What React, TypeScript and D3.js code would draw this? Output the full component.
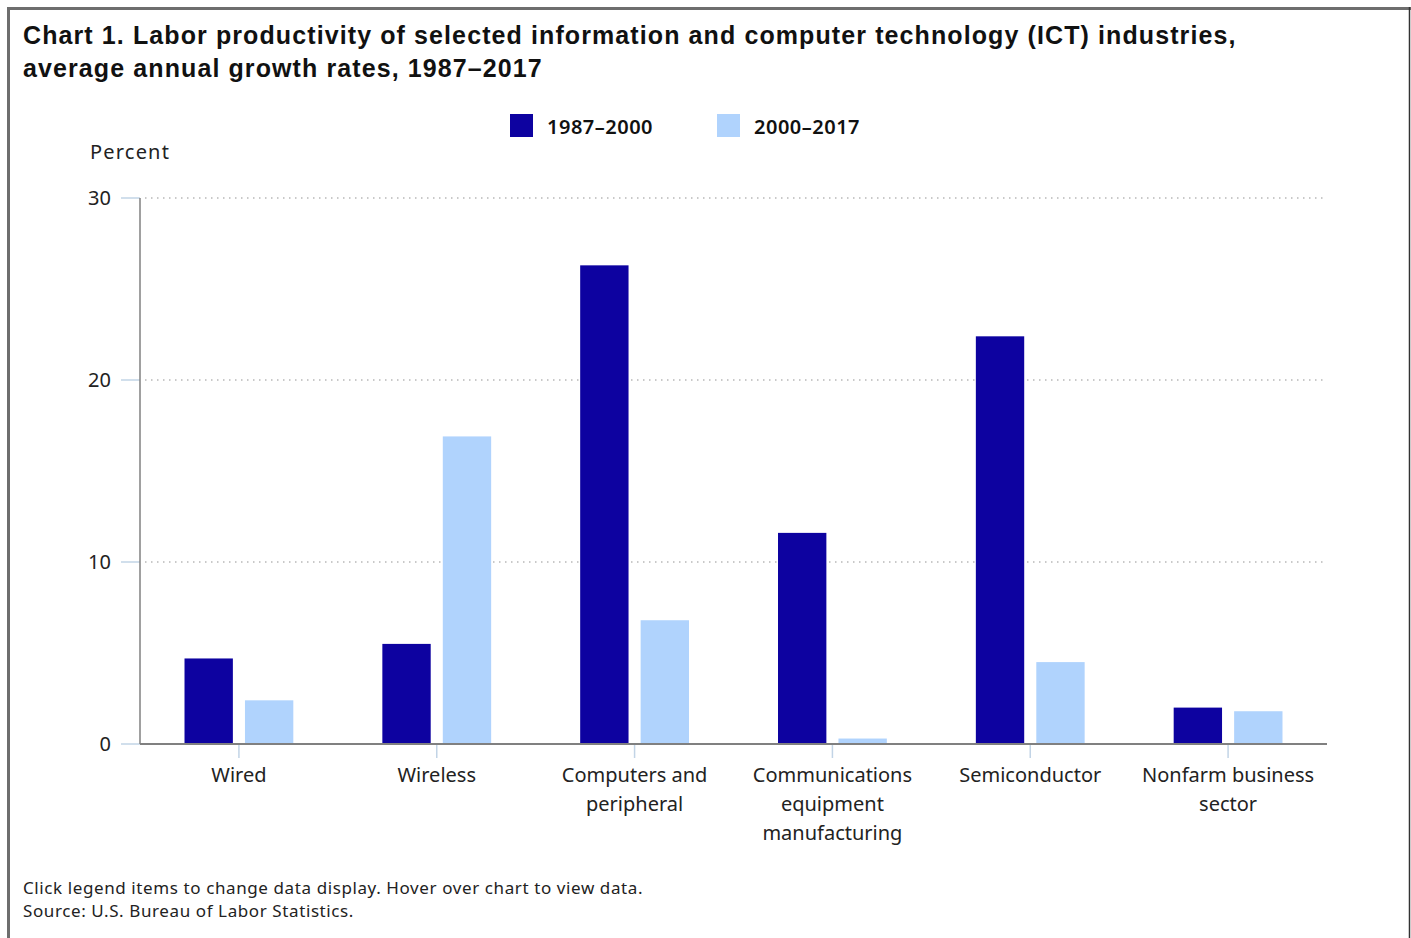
import React, { useEffect, useRef } from "react";
import * as d3 from "d3";

const categories = [
  ["Wired"],
  ["Wireless"],
  ["Computers and", "peripheral"],
  ["Communications", "equipment", "manufacturing"],
  ["Semiconductor"],
  ["Nonfarm business", "sector"],
];
const series = ["1987–2000", "2000–2017"];
const values1987 = [4.7, 5.5, 26.3, 11.6, 22.4, 2.0];
const values2000 = [2.4, 16.9, 6.8, 0.3, 4.5, 1.8];
const yTicks = [0, 10, 20, 30];

const colors = ["#0d02a0", "#b0d3fd"];
const labelFont = "'Noto Sans', 'Open Sans', sans-serif";
const titleFont = "'Liberation Sans', Arial, sans-serif";

export default function App() {
  const svgRef = useRef<SVGSVGElement>(null);

  useEffect(() => {
    const width = 1411;
    const height = 938;
    const svg = d3.select(svgRef.current).attr("width", width).attr("height", height);
    svg.selectAll("*").remove();

    const left = 140, right = 1327, top = 198, bottom = 744;

    // frame
    svg.append("rect").attr("width", width).attr("height", height).attr("fill", "#fff");
    svg.append("line").attr("x1", 8.5).attr("x2", 8.5).attr("y1", 7).attr("y2", height).attr("stroke", "#6e6e6e").attr("stroke-width", 3);
    svg.append("line").attr("x1", 7).attr("x2", width).attr("y1", 8.5).attr("y2", 8.5).attr("stroke", "#6e6e6e").attr("stroke-width", 3);
    svg.append("line").attr("x1", 1409.5).attr("x2", 1409.5).attr("y1", 7).attr("y2", height).attr("stroke", "#333").attr("stroke-width", 1.5);

    // title
    const title = svg.append("text").attr("font-family", titleFont).attr("font-weight", "bold")
      .attr("font-size", 25).attr("letter-spacing", 1.1).attr("fill", "#111");
    title.append("tspan").attr("x", 23).attr("y", 44)
      .text("Chart 1. Labor productivity of selected information and computer technology (ICT) industries,");
    title.append("tspan").attr("x", 23).attr("y", 77).text("average annual growth rates, 1987–2017");

    const x0 = d3.scaleBand<number>().domain(d3.range(categories.length)).range([left, right]);
    const x1 = d3.scaleBand<number>().domain([0, 1])
      .range([x0.bandwidth() * 0.225, x0.bandwidth() * 0.775]).paddingInner(0.2);
    const y = d3.scaleLinear().domain([0, 30]).range([bottom, top]);

    // grid
    svg.append("g").selectAll("line").data(yTicks.filter(t => t > 0)).join("line")
      .attr("x1", left + 5).attr("x2", right).attr("y1", d => y(d)).attr("y2", d => y(d))
      .attr("stroke", "#b8b8b8").attr("stroke-width", 1.5).attr("stroke-dasharray", "1.5,4.5");

    // y ticks
    const yAxis = svg.append("g");
    yAxis.selectAll("line").data(yTicks).join("line")
      .attr("x1", left - 19).attr("x2", left).attr("y1", d => y(d)).attr("y2", d => y(d))
      .attr("stroke", "#c2d4e6").attr("stroke-width", 1.5);
    yAxis.selectAll("text").data(yTicks).join("text")
      .attr("x", 111).attr("y", d => y(d)).attr("dy", "0.35em").attr("text-anchor", "end")
      .attr("font-family", labelFont).attr("font-size", 20).attr("fill", "#222").text(d => d);
    svg.append("text").attr("x", 90).attr("y", 159).attr("font-family", labelFont)
      .attr("font-size", 20).attr("letter-spacing", 1.2).attr("fill", "#222").text("Percent");

    // bars
    const data = categories.map((c, i) => [values1987[i], values2000[i]]);
    svg.append("g").selectAll("g").data(data).join("g")
      .attr("transform", (_, i) => `translate(${x0(i)},0)`)
      .selectAll("rect").data(d => d.map((v, k) => ({ v, k }))).join("rect")
      .attr("x", d => x1(d.k)!).attr("width", x1.bandwidth())
      .attr("y", d => y(d.v)).attr("height", d => y(0) - y(d.v))
      .attr("fill", d => colors[d.k]);

    // axes lines
    svg.append("line").attr("x1", left).attr("x2", left).attr("y1", top).attr("y2", bottom)
      .attr("stroke", "#808080").attr("stroke-width", 1.5);
    svg.append("line").attr("x1", left).attr("x2", right).attr("y1", bottom).attr("y2", bottom)
      .attr("stroke", "#808080").attr("stroke-width", 2);

    // x ticks + labels
    const xg = svg.append("g").selectAll("g").data(categories).join("g")
      .attr("transform", (_, i) => `translate(${x0(i)! + x0.bandwidth() / 2},0)`);
    xg.append("line").attr("y1", bottom + 1).attr("y2", bottom + 14)
      .attr("stroke", "#c2d4e6").attr("stroke-width", 1.5);
    xg.append("text").attr("text-anchor", "middle").attr("font-family", labelFont)
      .attr("font-size", 20).attr("fill", "#222")
      .selectAll("tspan").data(d => d).join("tspan")
      .attr("x", 0).attr("y", (_, j) => 782 + j * 29).text(d => d);

    // legend
    const legendX = [510, 717];
    const lg = svg.append("g").selectAll("g").data(series).join("g")
      .attr("transform", (_, i) => `translate(${legendX[i]},114)`);
    lg.append("rect").attr("width", 23).attr("height", 23).attr("fill", (_, i) => colors[i]);
    lg.append("text").attr("x", 37).attr("y", 13).attr("dy", "0.35em").attr("font-family", labelFont)
      .attr("font-size", 20).attr("letter-spacing", 0.5).attr("font-weight", 600).attr("fill", "#111").text(d => d);

    // footer
    const foot = svg.append("text").attr("font-family", labelFont).attr("font-size", 17)
      .attr("letter-spacing", 0.6).attr("fill", "#222");
    foot.append("tspan").attr("x", 23).attr("y", 894)
      .text("Click legend items to change data display. Hover over chart to view data.");
    foot.append("tspan").attr("x", 23).attr("y", 917).text("Source: U.S. Bureau of Labor Statistics.");
  }, []);

  return (
    <svg ref={svgRef} style={{ position: "absolute", left: 0, top: 0, display: "block" }} />
  );
}
